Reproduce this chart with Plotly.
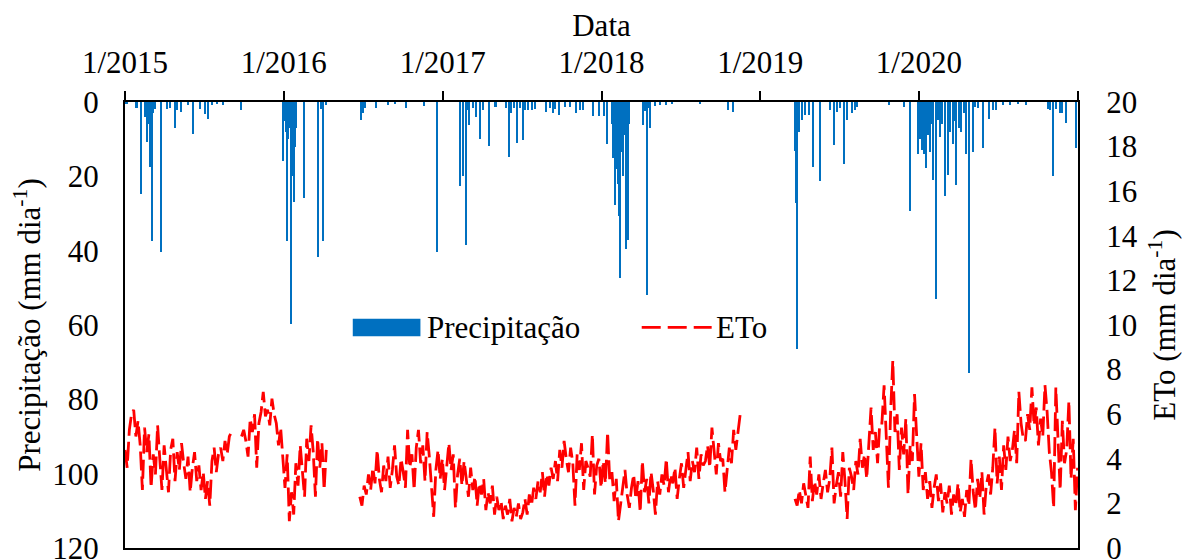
import pandas as pd
import plotly.graph_objects as go

# ---------------- data ----------------
year_ticks = ["2015-01-01", "2016-01-01", "2017-01-01", "2018-01-01",
              "2019-01-01", "2020-01-01", "2021-01-01"]
year_labels = ["1/2015", "1/2016", "1/2017", "1/2018", "1/2019", "1/2020", ""]

# daily precipitation (mm/day), only rainy days
precip_dates = [
    "2015-01-05", "2015-01-28", "2015-02-08", "2015-02-16", "2015-02-22", "2015-02-25",
    "2015-02-27", "2015-03-01", "2015-03-03", "2015-03-04", "2015-03-08", "2015-03-11",
    "2015-03-25", "2015-03-26", "2015-04-08", "2015-04-15", "2015-04-26", "2015-04-30",
    "2015-05-11", "2015-05-26", "2015-06-07", "2015-06-23", "2015-07-04", "2015-07-11",
    "2015-07-20", "2015-08-01", "2015-08-14", "2015-09-26",
    "2015-12-31", "2016-01-03", "2016-01-06", "2016-01-09", "2016-01-12", "2016-01-16",
    "2016-01-19", "2016-01-22", "2016-01-25", "2016-01-27", "2016-01-30", "2016-02-17",
    "2016-03-21", "2016-03-27", "2016-04-01", "2016-04-09", "2016-06-28", "2016-07-01",
    "2016-07-06", "2016-08-02", "2016-08-28", "2016-09-13", "2016-10-08", "2016-11-19",
    "2016-12-19",
    "2017-02-11", "2017-02-16", "2017-02-23", "2017-03-01", "2017-03-03", "2017-03-11",
    "2017-03-20", "2017-03-28", "2017-04-03", "2017-04-18", "2017-05-01", "2017-05-05",
    "2017-05-26", "2017-06-03", "2017-06-08", "2017-06-14", "2017-06-21", "2017-06-28",
    "2017-07-04", "2017-07-09", "2017-07-16", "2017-07-26", "2017-08-01", "2017-08-26",
    "2017-09-05", "2017-09-11", "2017-09-16", "2017-09-25", "2017-10-09", "2017-10-21",
    "2017-11-05", "2017-11-13", "2017-11-20", "2017-12-13", "2017-12-27",
    "2018-01-07", "2018-01-14", "2018-01-25", "2018-01-29", "2018-02-01", "2018-02-03",
    "2018-02-06", "2018-02-08", "2018-02-10", "2018-02-13", "2018-02-15", "2018-02-18",
    "2018-02-21", "2018-02-23", "2018-02-26", "2018-03-01", "2018-03-04", "2018-03-06",
    "2018-04-07", "2018-04-11", "2018-04-16", "2018-04-20", "2018-04-24", "2018-05-04",
    "2018-05-16", "2018-05-29", "2018-06-12", "2018-08-16", "2018-10-20", "2018-10-31",
    "2019-03-22", "2019-03-24", "2019-03-27", "2019-03-31", "2019-04-07", "2019-04-14",
    "2019-04-24", "2019-05-03", "2019-05-19", "2019-06-11", "2019-06-20", "2019-06-27",
    "2019-07-04", "2019-07-14", "2019-07-20", "2019-07-31", "2019-08-07", "2019-08-12",
    "2019-10-25", "2019-11-28", "2019-12-12", "2019-12-30",
    "2020-01-04", "2020-01-08", "2020-01-13", "2020-01-19", "2020-01-23", "2020-01-27",
    "2020-01-31", "2020-02-03", "2020-02-09", "2020-02-14", "2020-02-19", "2020-02-23",
    "2020-03-02", "2020-03-09", "2020-03-14", "2020-03-19", "2020-03-23", "2020-03-28",
    "2020-04-02", "2020-04-08", "2020-04-14", "2020-04-20", "2020-04-26", "2020-05-04",
    "2020-05-09", "2020-05-16", "2020-05-28", "2020-06-11", "2020-06-20", "2020-06-26",
    "2020-07-12", "2020-07-29", "2020-08-16", "2020-09-03", "2020-10-24", "2020-10-29",
    "2020-11-05", "2020-11-11", "2020-11-21", "2020-11-25", "2020-12-06", "2020-12-27",
]
precip_values = [
    0.6, 1.5, 24.7, 4.0, 10.7, 6.0,
    14.0, 17.4, 9.0, 37.4, 3.0, 2.0,
    40.3, 6.0, 1.8, 1.6, 7.0, 2.2,
    2.6, 0.9, 8.6, 1.8, 3.3, 4.6,
    0.9, 0.5, 0.7, 2.2,
    15.9, 5.0, 8.0, 37.4, 10.0, 7.1,
    59.7, 20.0, 26.8, 12.0, 7.1, 25.7,
    41.8, 2.0, 37.4, 0.8, 4.8, 3.0,
    1.7, 1.5, 0.8, 0.5, 1.5, 1.2,
    40.3,
    22.5, 20.0, 38.6, 2.2, 6.2, 1.7,
    3.9, 9.9, 2.2, 11.8, 1.3, 1.3,
    1.7, 14.8, 3.0, 1.7, 11.1, 1.7,
    10.2, 2.2, 2.2, 2.2, 1.8, 2.6,
    1.7, 3.0, 2.0, 3.5, 1.3, 1.3,
    3.0, 2.2, 2.2, 3.7, 3.7,
    3.7, 11.3, 6.0, 15.0, 27.7, 18.0,
    8.0, 22.0, 30.8, 47.3, 12.0, 13.4,
    20.0, 9.0, 39.5, 16.0, 37.1, 6.0,
    6.2, 2.5, 51.8, 1.5, 7.1, 1.2,
    0.8, 0.8, 0.6, 0.4, 2.2, 2.6,
    13.3, 27.2, 66.4, 8.0, 4.8, 3.5,
    3.5, 17.4, 21.2, 2.2, 11.6, 2.6,
    1.7, 16.7, 4.8, 3.0, 2.2, 1.3,
    0.8, 1.3, 29.3, 14.0,
    10.0, 12.9, 14.0, 17.7, 9.0, 13.4,
    6.0, 21.0, 53.0, 4.8, 9.5, 6.0,
    25.4, 19.6, 8.0, 11.2, 5.0, 22.3,
    7.0, 8.0, 3.0, 13.9, 73.0, 13.4,
    1.3, 1.7, 12.5, 4.6, 2.2, 2.2,
    0.8, 0.8, 0.6, 0.8, 1.8, 2.2,
    19.8, 2.0, 3.0, 3.0, 5.6, 12.3,
]

# reference evapotranspiration (mm/day), read every 5 days, in 4 continuous segments
eto_a_start = "2015-01-01"
eto_a = [4.4, 3.6, 5.3, 6.0, 6.2, 5.0, 5.7, 4.6, 2.6, 5.4,
         4.3, 5.1, 2.7, 4.2, 3.3, 5.5, 4.0, 2.6, 4.6, 3.5,
         2.5, 4.4, 4.9, 3.0, 4.3, 3.5, 4.7, 3.8, 3.1, 4.1,
         2.5, 3.6, 4.3, 3.0, 3.7, 2.6, 3.4, 2.2, 3.0, 1.9,
         3.9, 4.5, 3.4, 4.2, 4.5, 3.9, 4.8, 4.2, 5.0, 5.2]
eto_b_start = "2015-09-26"
eto_b = [5.0, 5.3, 4.8, 4.1, 5.8, 5.2, 6.0, 3.6, 5.6, 6.1,
         7.0, 5.9, 6.2, 5.5, 6.7, 6.0, 5.6, 4.6, 5.4, 3.9,
         2.7, 4.2, 1.2, 2.5, 1.5, 3.8, 2.8, 4.6, 3.4, 2.3,
         4.9, 3.9, 5.5, 4.3, 2.3, 4.9, 3.6, 4.7, 2.6, 4.4]
eto_c_start = "2016-06-24"
eto_c = [2.3, 1.9, 2.8, 2.4, 3.3, 2.6, 3.6, 2.9, 4.4, 3.1,
         2.5, 3.7, 3.0, 4.1, 2.7, 3.5, 4.6, 3.2, 2.8, 4.0,
         3.4, 2.7, 5.3, 3.6, 4.2, 2.6, 4.5, 5.3, 3.8, 4.6,
         3.0, 5.2, 4.1, 2.6, 1.4, 3.5, 4.4, 3.1, 4.0, 2.6,
         3.7, 4.7, 3.5, 4.2, 1.8, 3.3, 4.0, 2.8, 3.9, 3.0,
         2.3, 3.6, 2.6, 3.2, 1.9, 2.9, 2.4, 3.1, 1.7, 2.5,
         2.0, 2.8, 1.5, 2.3, 1.7, 2.1, 1.3, 1.9, 1.5, 2.2,
         1.2, 1.8, 1.4, 2.0, 1.3, 1.6, 2.2, 1.5, 2.4, 1.9,
         2.7, 2.2, 3.0, 2.5, 3.4, 2.3, 3.3, 2.8, 3.6, 3.1,
         3.9, 3.0, 4.4, 3.6, 4.8, 4.0, 3.4, 4.5, 3.8, 1.9,
         4.2, 3.5, 4.7, 2.6, 3.9, 3.6, 3.2, 5.1, 2.4, 3.7,
         4.0, 2.7, 3.9, 2.9, 5.2, 3.0, 3.4, 2.1, 3.1, 1.2,
         2.0, 2.9, 3.5, 2.4, 1.8, 2.7, 3.3, 2.2, 3.0, 1.6,
         3.9, 2.5, 3.1, 2.0, 3.4, 2.6, 1.5, 3.0, 2.4, 3.3,
         2.8, 4.0, 2.5, 3.3, 2.9, 3.6, 2.2, 3.1, 3.8, 2.7,
         3.6, 4.3, 3.0, 3.9, 3.4, 4.5, 3.1, 4.2, 3.7, 3.9,
         4.6, 3.6, 5.4, 4.2, 3.3, 4.7, 3.9, 4.0, 2.5, 3.5,
         4.5, 3.8, 5.3, 4.4, 5.1, 6.0]
eto_d_start = "2019-03-22"
eto_d = [2.2, 1.9, 2.6, 2.0, 2.9, 2.3, 1.8, 4.1, 2.1, 3.0,
         2.4, 3.3, 2.2, 2.9, 3.5, 2.5, 3.1, 4.5, 2.0, 2.8,
         3.4, 2.3, 4.3, 3.0, 1.3, 3.6, 3.2, 2.6, 3.9, 3.3,
         4.9, 3.6, 4.2, 3.1, 4.6, 6.3, 4.4, 5.2, 3.8, 5.6,
         5.6, 7.3, 5.0, 2.7, 6.1, 8.4, 5.2, 6.0, 3.5, 5.4,
         4.2, 5.8, 2.4, 4.6, 3.9, 6.9, 5.0, 3.2, 4.7, 2.6,
         3.4, 2.2, 3.0, 1.8, 2.7, 3.3, 2.1, 2.9, 1.6, 2.5,
         2.0, 2.8, 1.5, 2.4, 1.9, 2.9, 1.6, 2.2, 1.4, 2.6,
         1.9, 4.0, 2.5, 1.7, 3.1, 2.2, 3.4, 1.5, 2.8, 3.3,
         2.4, 3.6, 5.4, 2.9, 4.1, 2.6, 4.6, 3.5, 5.0, 3.9,
         4.4, 5.3, 3.8, 7.0, 5.6, 4.9, 4.8, 6.0, 5.3, 7.2,
         5.5, 6.3, 4.6, 5.8, 5.0, 7.3, 6.1, 4.3, 3.4, 1.8,
         7.2, 4.8, 2.6, 5.7, 3.8, 4.4, 6.6, 3.1, 4.9, 1.7, 3.6]

series_names = ["Precipitação", "ETo"]

# ---------------- build ----------------
eto_x, eto_y = [], []
for start, vals in [(eto_a_start, eto_a), (eto_b_start, eto_b),
                    (eto_c_start, eto_c), (eto_d_start, eto_d)]:
    dates = pd.date_range(start, periods=len(vals), freq="5D")
    eto_x += list(dates.strftime("%Y-%m-%d")) + [None]
    eto_y += list(vals) + [None]

FONT = "Liberation Serif"
FS = 31
BLUE = "#0070C0"
RED = "#FF0000"
DASH = "19px,6px"
DAY_MS = 86400000

fig = go.Figure()
fig.add_trace(go.Bar(
    x=precip_dates, y=precip_values, name=series_names[0],
    marker=dict(color=BLUE, line=dict(width=0)),
    width=[3.5 * DAY_MS] * len(precip_values),
    yaxis="y", showlegend=False,
))
fig.add_trace(go.Scatter(
    x=eto_x, y=eto_y, name=series_names[1], mode="lines",
    line=dict(color=RED, width=2.8, dash=DASH),
    connectgaps=False, yaxis="y2", showlegend=False,
))

# legend (drawn in paper coordinates, inside the plot area)
leg_y = 0.4945
fig.add_shape(type="rect", xref="paper", yref="paper",
              x0=0.239, x1=0.310, y0=leg_y - 0.0195, y1=leg_y + 0.0195,
              fillcolor=BLUE, line=dict(width=0))
fig.add_annotation(xref="paper", yref="paper", x=0.315, y=leg_y,
                   xanchor="left", yanchor="middle", showarrow=False,
                   text=series_names[0], font=dict(family=FONT, size=FS, color="black"))
fig.add_shape(type="line", xref="paper", yref="paper",
              x0=0.5422, x1=0.6156, y0=leg_y, y1=leg_y,
              line=dict(color=RED, width=2.8, dash="19px,7px"))
fig.add_annotation(xref="paper", yref="paper", x=0.618, y=leg_y,
                   xanchor="left", yanchor="middle", showarrow=False,
                   text=series_names[1], font=dict(family=FONT, size=FS, color="black"))

# the page body adds an 8px offset, so the figure is placed to line up with the window
fig.update_layout(
    width=1174, height=552,
    margin=dict(l=117, r=104, t=94, b=12),
    paper_bgcolor="white", plot_bgcolor="white",
    font=dict(family=FONT, size=FS, color="black"),
    bargap=0,
    showlegend=False,
    xaxis=dict(
        type="date", side="top", automargin=False,
        range=["2015-01-01", "2021-01-01"],
        tickmode="array", tickvals=year_ticks, ticktext=year_labels,
        ticks="outside", ticklen=9, tickwidth=1.5, tickcolor="black",
        ticklabelstandoff=6,
        tickfont=dict(family=FONT, size=FS),
        showline=True, linecolor="black", linewidth=2, mirror=True,
        showgrid=False, zeroline=False,
        title=dict(text="Data", standoff=4, font=dict(family=FONT, size=FS)),
    ),
    yaxis=dict(
        range=[120, 0], dtick=20, automargin=False,
        showline=True, linecolor="black", linewidth=2,
        ticks="", showgrid=False, zeroline=False,
        ticklabelstandoff=18, ticklabeloverflow="allow",
        tickfont=dict(family=FONT, size=FS),
        title=dict(text="Precipitação (mm dia<sup>-1</sup>)", standoff=8,
                   font=dict(family=FONT, size=FS)),
    ),
    yaxis2=dict(
        range=[0, 20], dtick=2, overlaying="y", side="right", automargin=False,
        showline=True, linecolor="black", linewidth=2,
        ticks="", showgrid=False, zeroline=False,
        ticklabelstandoff=20, ticklabeloverflow="allow",
        tickfont=dict(family=FONT, size=FS),
        title=dict(text="ETo (mm dia<sup>-1</sup>)", standoff=24,
                   font=dict(family=FONT, size=FS)),
    ),
)

fig.write_html("out.html")
